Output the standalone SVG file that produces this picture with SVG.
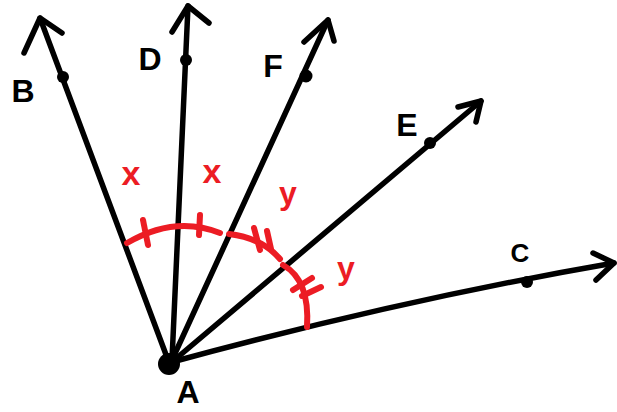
<svg xmlns="http://www.w3.org/2000/svg" width="617" height="412" viewBox="0 0 617 412">
<style>
.ray{fill:none;stroke:#000;stroke-width:5.5;stroke-linecap:round;stroke-linejoin:round}
.red{fill:none;stroke:#ec1c24;stroke-width:6;stroke-linecap:round;stroke-linejoin:round}
.lbl{font-family:"Liberation Sans",Arial,sans-serif;font-weight:bold;font-size:32px;fill:#000;text-anchor:middle}
.rl{font-family:"Liberation Sans",Arial,sans-serif;font-weight:bold;font-size:32px;fill:#ec1c24;text-anchor:middle}
</style>
<rect width="617" height="412" fill="#fff"/>
<g id="connectors">
  <g id="ray-AB"><path class="ray" d="M168,360 L40,18"/><path class="ray" d="M24,53 L40,18 L62,33"/></g>
  <g id="ray-AD"><path class="ray" d="M172,360 L188,6"/><path class="ray" d="M172,32 L188,6 L209,23"/></g>
  <g id="ray-AF"><path class="ray" d="M172,360 L328,20"/><path class="ray" d="M304,42 L328,20 L334,41"/></g>
  <g id="ray-AE"><path class="ray" d="M172,362 L481,101"/><path class="ray" d="M458,107 L481,101 L476,122"/></g>
  <g id="ray-AC"><path class="ray" d="M172,362 Q400,300 614,263"/><path class="ray" d="M593,253 L614,263 L596,280"/></g>
</g>
<g id="A"><circle cx="169" cy="364" r="11"/><text class="lbl" x="188" y="403" font-size="34">A</text></g>
<g id="B"><circle cx="63" cy="77" r="6"/><text class="lbl" x="23" y="102">B</text></g>
<g id="D"><circle cx="186" cy="60" r="6"/><text class="lbl" x="150" y="70">D</text></g>
<g id="F"><circle cx="306" cy="76" r="6.5"/><text class="lbl" x="273" y="77">F</text></g>
<g id="E"><circle cx="430" cy="143" r="6"/><text class="lbl" x="407" y="136">E</text></g>
<g id="C"><circle cx="527" cy="282" r="6"/><text class="lbl" x="520" y="262" style="font-size:26px">C</text></g>
<g id="angle-marks">
  <path class="red" d="M127,243 Q175,215 220,233"/>
  <path class="red" d="M229,234 Q262,238 280,259"/>
  <path class="red" d="M283,265 Q310,280 307,327"/>
  <path class="red" d="M143,220 L148,245"/>
  <path class="red" d="M200,215 L199,235"/>
  <path class="red" d="M254,228 L260,250"/>
  <path class="red" d="M267,231 L271,249"/>
  <path class="red" d="M293,290 L312,278"/>
  <path class="red" d="M302,296 L321,287"/>
  <text class="rl" x="131" y="185" style="font-size:34px">x</text>
  <text class="rl" x="212" y="183" style="font-size:34px">x</text>
  <text class="rl" x="288" y="204">y</text>
  <text class="rl" x="346" y="279">y</text>
</g>
</svg>
